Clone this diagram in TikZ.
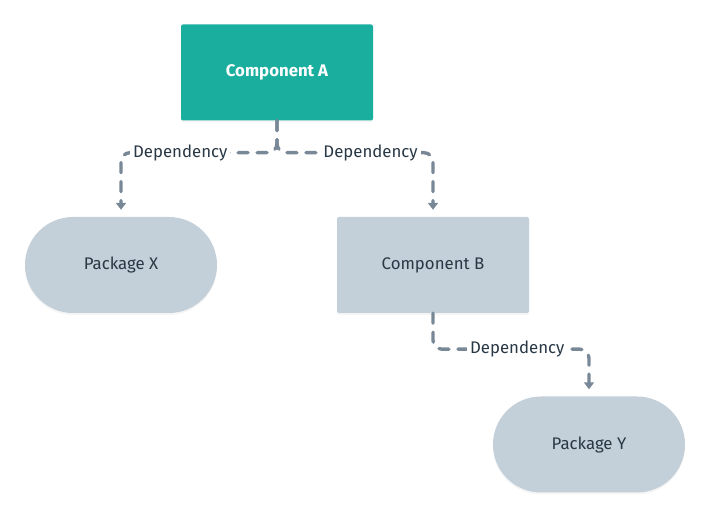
\documentclass[tikz,border=0pt]{standalone}
\usepackage{fontspec}
\setmainfont{Fira Sans}
\usetikzlibrary{arrows.meta,shadows}

\definecolor{teal}{HTML}{1AAE9F}
\definecolor{hellgrau}{HTML}{C3CFD9}
\definecolor{linie}{HTML}{788896}
\definecolor{schrift}{HTML}{293845}

\begin{document}
\begin{tikzpicture}
		[
		x=1pt, y=-1pt, font=\fontsize{16.8}{20}\selectfont, >={Triangle[width=10pt,length=7pt]},
		%Voreinstellungen
		box/.style={rectangle, rounded corners=2pt, minimum width=192pt, minimum height=96pt, inner sep=0pt, text=schrift,
			drop shadow={opacity=0.08, shadow xshift=0pt, shadow yshift=-2pt}},
		paket/.style={box, rounded corners=48pt, fill=hellgrau},
		dep/.style={->, linie, line width=3.4pt, line cap=round, dash pattern=on 10pt off 9pt, rounded corners=9pt, shorten >=7pt},
		lbl/.style={fill=white, text=schrift, inner sep=3pt}
		]
		
		%Rahmen
		\useasboundingbox (0,0) rectangle (710,518);
		
		%Knoten
		\node[box, fill=teal, text=white, font=\fontsize{16.8}{20}\selectfont\bfseries] (A) at (277,72.5) {Component A};
		\node[paket] (X) at (121,265) {Package X};
		\node[box, fill=hellgrau] (B) at (433,265) {Component B};
		\node[paket] (Y) at (589,444.5) {Package Y};
		
		%Abhaengigkeiten
		\draw[dep] (A.south) -- ++(0,32) -| node[lbl, pos=0.31] {Dependency} (X.north);
		\draw[dep] (A.south) -- ++(0,32) -| node[lbl, pos=0.3] {Dependency} (B.north);
		\draw[dep] (B.south) -- ++(0,36) -| node[lbl, pos=0.27] {Dependency} (Y.north);
	\end{tikzpicture}
\end{document}
